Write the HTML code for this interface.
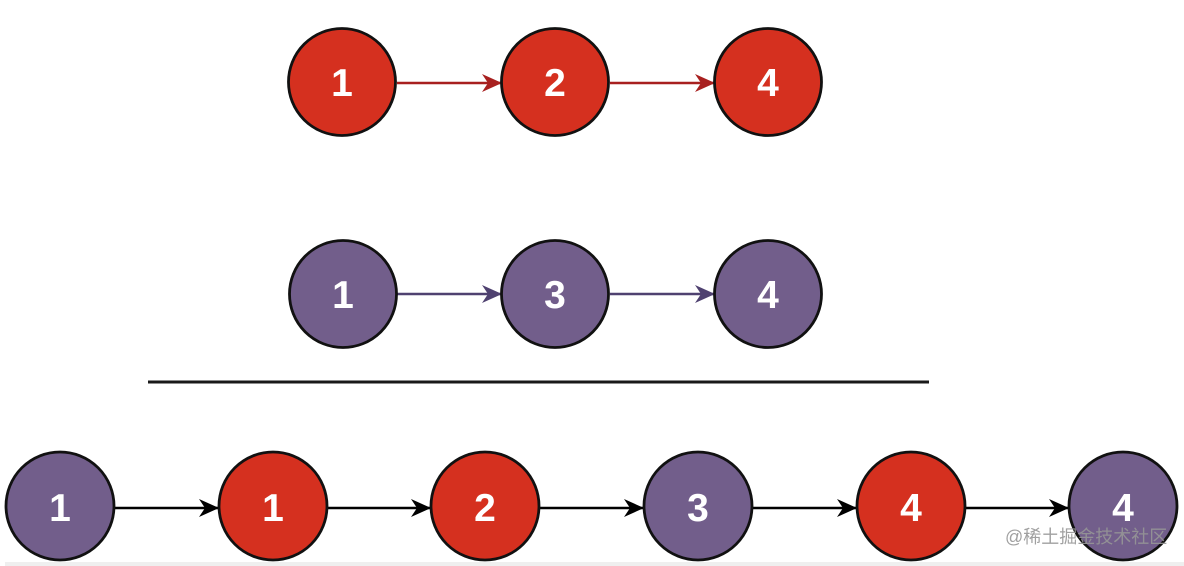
<!DOCTYPE html>
<html>
<head>
<meta charset="utf-8">
<style>
html,body{margin:0;padding:0;background:#fff;}
body{width:1184px;height:566px;overflow:hidden;position:relative;}
svg{position:absolute;left:0;top:0;}
.t{font-family:"Liberation Sans",Arial,sans-serif;font-weight:bold;font-size:39px;fill:#fff;text-anchor:middle;}
.wm{position:absolute;left:1005px;top:525px;font-family:"Liberation Sans","Noto Sans CJK SC",sans-serif;font-size:18px;color:rgba(150,150,150,0.9);white-space:nowrap;line-height:24px;}
</style>
</head>
<body>
<svg width="1184" height="566" viewBox="0 0 1184 566" xmlns="http://www.w3.org/2000/svg">
  <defs>
    <marker id="ar" viewBox="0 0 20 20" refX="20" refY="10" markerWidth="20" markerHeight="20" markerUnits="userSpaceOnUse" orient="auto">
      <path d="M0,1 L20,10 L0,19 L6,10 Z" fill="#a8201f"/>
    </marker>
    <marker id="ap" viewBox="0 0 20 20" refX="20" refY="10" markerWidth="20" markerHeight="20" markerUnits="userSpaceOnUse" orient="auto">
      <path d="M0,1 L20,10 L0,19 L6,10 Z" fill="#4f4170"/>
    </marker>
    <marker id="ab" viewBox="0 0 20 20" refX="20" refY="10" markerWidth="20" markerHeight="20" markerUnits="userSpaceOnUse" orient="auto">
      <path d="M0,1 L20,10 L0,19 L6,10 Z" fill="#000"/>
    </marker>
  </defs>

  <rect x="5" y="562" width="1179" height="4" fill="#efefef"/>

  <line x1="397" y1="83" x2="502" y2="83" stroke="#a8201f" stroke-width="2.5" marker-end="url(#ar)"/>
  <line x1="610" y1="83" x2="715" y2="83" stroke="#a8201f" stroke-width="2.5" marker-end="url(#ar)"/>
  <line x1="397" y1="294" x2="502" y2="294" stroke="#4f4170" stroke-width="2.5" marker-end="url(#ap)"/>
  <line x1="610" y1="294" x2="715" y2="294" stroke="#4f4170" stroke-width="2.5" marker-end="url(#ap)"/>
  <line x1="148" y1="382" x2="929" y2="382" stroke="#1a1a1a" stroke-width="3"/>
  <line x1="115" y1="508" x2="219" y2="508" stroke="#000" stroke-width="2.5" marker-end="url(#ab)"/>
  <line x1="328" y1="508" x2="431" y2="508" stroke="#000" stroke-width="2.5" marker-end="url(#ab)"/>
  <line x1="540" y1="508" x2="644" y2="508" stroke="#000" stroke-width="2.5" marker-end="url(#ab)"/>
  <line x1="752" y1="508" x2="857" y2="508" stroke="#000" stroke-width="2.5" marker-end="url(#ab)"/>
  <line x1="965" y1="508" x2="1069" y2="508" stroke="#000" stroke-width="2.5" marker-end="url(#ab)"/>

  <circle cx="342" cy="82" r="53.5" fill="#d5301f" stroke="#111" stroke-width="2.8"/>
  <circle cx="555" cy="82" r="53.5" fill="#d5301f" stroke="#111" stroke-width="2.8"/>
  <circle cx="768" cy="82" r="53.5" fill="#d5301f" stroke="#111" stroke-width="2.8"/>
  <text class="t" x="342" y="96">1</text>
  <text class="t" x="555" y="96">2</text>
  <text class="t" x="768" y="96">4</text>

  <circle cx="343" cy="294" r="53.5" fill="#725e8b" stroke="#111" stroke-width="2.8"/>
  <circle cx="555" cy="294" r="53.5" fill="#725e8b" stroke="#111" stroke-width="2.8"/>
  <circle cx="768" cy="294" r="53.5" fill="#725e8b" stroke="#111" stroke-width="2.8"/>
  <text class="t" x="343" y="308">1</text>
  <text class="t" x="555" y="308">3</text>
  <text class="t" x="768" y="308">4</text>

  <circle cx="60" cy="506" r="54" fill="#725e8b" stroke="#111" stroke-width="2.8"/>
  <circle cx="273" cy="506" r="54" fill="#d5301f" stroke="#111" stroke-width="2.8"/>
  <circle cx="485" cy="506" r="54" fill="#d5301f" stroke="#111" stroke-width="2.8"/>
  <circle cx="698" cy="506" r="54" fill="#725e8b" stroke="#111" stroke-width="2.8"/>
  <circle cx="911" cy="506" r="54" fill="#d5301f" stroke="#111" stroke-width="2.8"/>
  <circle cx="1123" cy="506" r="54" fill="#725e8b" stroke="#111" stroke-width="2.8"/>
  <text class="t" x="60" y="521">1</text>
  <text class="t" x="273" y="521">1</text>
  <text class="t" x="485" y="521">2</text>
  <text class="t" x="698" y="521">3</text>
  <text class="t" x="911" y="521">4</text>
  <text class="t" x="1123" y="521">4</text>
</svg>
<div class="wm">@稀土掘金技术社区</div>
</body>
</html>
